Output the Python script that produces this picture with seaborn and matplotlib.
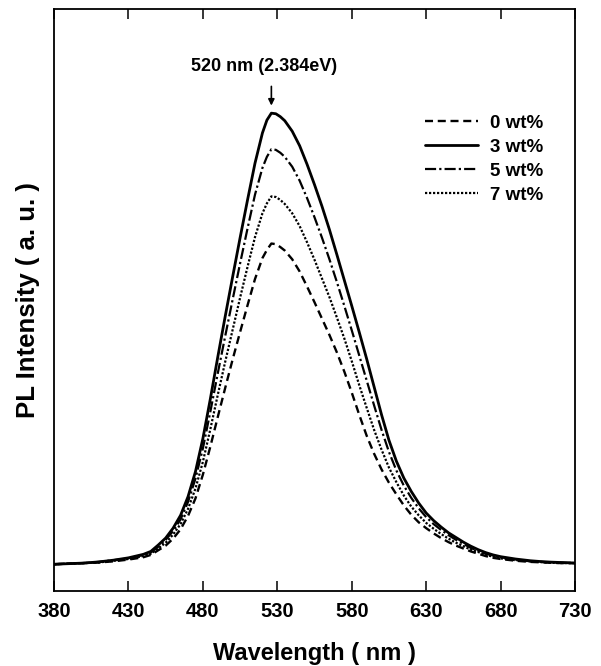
import matplotlib
matplotlib.use("Agg")
import pandas as pd
import seaborn as sns
import matplotlib.pyplot as plt

# dados (intensidade PL em u.a.)
wavelength = [380, 390, 400, 410, 420, 430, 440, 445, 450, 455, 460, 465, 470, 475,
              480, 485, 490, 495, 500, 505, 510, 515, 520, 523, 526, 529, 532, 535,
              540, 545, 550, 555, 560, 565, 570, 575, 580, 585, 590, 595, 600, 605,
              610, 615, 620, 625, 630, 635, 640, 645, 650, 655, 660, 665, 670, 675,
              680, 690, 700, 710, 720, 730]

pl_0wt = [.046, .047, .048, .049, .051, .054, .058, .062, .070, .078, .090, .106, .129, .159,
          .200, .248, .299, .349, .398, .445, .491, .536, .572, .586, .597, .596, .591, .585,
          .570, .549, .523, .496, .468, .440, .410, .377, .341, .303, .267, .236, .209, .186,
          .166, .147, .131, .118, .108, .099, .091, .084, .078, .073, .068, .064, .060, .057,
          .055, .052, .050, .049, .048, .048]

pl_3wt = [.046, .047, .048, .050, .053, .057, .063, .068, .079, .091, .108, .130, .162, .205,
          .262, .330, .402, .472, .540, .607, .672, .735, .787, .809, .821, .820, .815, .808,
          .790, .765, .733, .698, .661, .621, .578, .534, .490, .445, .399, .351, .303, .259,
          .223, .194, .171, .151, .134, .121, .110, .100, .092, .084, .077, .071, .066, .062,
          .059, .055, .052, .050, .049, .048]

pl_5wt = [.046, .047, .048, .050, .053, .056, .062, .066, .076, .088, .103, .123, .153, .193,
          .245, .308, .374, .438, .501, .563, .623, .681, .727, .746, .759, .758, .753, .746,
          .729, .705, .675, .642, .607, .570, .531, .490, .448, .405, .362, .319, .277, .239,
          .207, .181, .160, .142, .127, .115, .105, .096, .088, .081, .074, .069, .064, .061,
          .058, .054, .051, .050, .049, .048]

pl_7wt = [.046, .047, .048, .049, .052, .055, .060, .064, .073, .083, .097, .115, .141, .176,
          .222, .278, .337, .394, .449, .504, .557, .608, .649, .666, .678, .677, .672, .665,
          .649, .627, .599, .569, .537, .505, .470, .434, .395, .354, .315, .277, .243, .212,
          .187, .164, .145, .130, .117, .107, .098, .090, .083, .077, .071, .067, .062, .059,
          .056, .053, .051, .049, .048, .048]

amostras = ['0 wt%', '3 wt%', '5 wt%', '7 wt%']

df = pd.DataFrame({'wl': wavelength, '0 wt%': pl_0wt, '3 wt%': pl_3wt,
                   '5 wt%': pl_5wt, '7 wt%': pl_7wt})
df = df.melt(id_vars='wl', var_name='amostra', value_name='pl')

sns.set_style("ticks")
plt.rcParams['font.family'] = ['Liberation Sans', 'DejaVu Sans']
plt.rcParams['font.weight'] = 'bold'
plt.rcParams['text.color'] = 'black'
plt.rcParams['axes.labelcolor'] = 'black'
plt.rcParams['xtick.color'] = 'black'
plt.rcParams['axes.edgecolor'] = 'black'

fig = plt.figure(figsize=(6.01, 6.66), dpi=100)
ax = fig.add_axes([0.0899, 0.1126, 0.8669, 0.8739])

estilos = {'0 wt%': (3.4, 2.0), '3 wt%': '', '5 wt%': (5.0, 1.4, 1.0, 1.4), '7 wt%': (1.0, 0.8)}
larguras = {'0 wt%': 1.7, '3 wt%': 2.0, '5 wt%': 1.6, '7 wt%': 1.6}

sns.lineplot(data=df, x='wl', y='pl', hue='amostra', style='amostra', size='amostra',
             hue_order=amostras, style_order=amostras, size_order=amostras,
             palette={a: 'black' for a in amostras}, dashes=estilos, sizes=larguras,
             estimator=None, errorbar=None, ax=ax)

# legenda sem moldura
h, l = ax.get_legend_handles_labels()
pares = [(hh, ll) for hh, ll in zip(h, l) if ll in amostras]
ax.legend([p[0] for p in pares], [p[1] for p in pares], loc='upper left',
          bbox_to_anchor=(0.712, 0.818), frameon=False,
          handlelength=2.85, handletextpad=0.62, labelspacing=0.36,
          borderaxespad=0, borderpad=0, prop={'weight': 'bold', 'size': 13.5})

# seta no pico
pico = df[df['amostra'] == '3 wt%'].sort_values('pl').iloc[-1]
ax.annotate('', xy=(pico['wl'], pico['pl'] + 0.013), xytext=(pico['wl'], pico['pl'] + 0.046),
            arrowprops=dict(arrowstyle='-|>', color='black', lw=1.2, mutation_scale=9,
                            shrinkA=0, shrinkB=0))
ax.text(pico['wl'] - 5, pico['pl'] + 0.080, '520 nm (2.384eV)', ha='center', va='center',
        fontsize=13, fontweight='bold')

ax.set_xlim(380, 730)
ax.set_ylim(0, 1)
ax.set_yticks([])
ax.set_xticks(range(380, 731, 50))
ax.tick_params(axis='x', direction='in', top=True, length=7, width=1.1, pad=8, labelsize=14.5)
for t in ax.get_xticklabels():
    t.set_fontweight('bold')
for s in ax.spines.values():
    s.set_linewidth(1.3)

ax.set_xlabel('Wavelength ( nm )', fontsize=17, fontweight='bold', labelpad=15)
ax.set_ylabel('PL Intensity ( a. u. )', fontsize=18.5, fontweight='bold', labelpad=10)

plt.savefig('out.png', dpi=100)
plt.close()
